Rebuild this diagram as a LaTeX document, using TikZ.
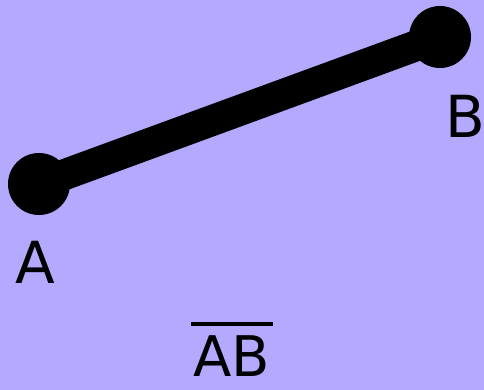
\documentclass[tikz,border=0pt]{standalone}
\usepackage{fontspec}
\setmainfont{DejaVu Sans}
\definecolor{bgc}{RGB}{179,170,255}
\begin{document}
\begin{tikzpicture}[x=1pt,y=-1pt,
  dot/.style={circle,fill=black,minimum size=62pt,inner sep=0pt},
  lbl/.style={font=\fontsize{58}{58}\selectfont,inner sep=0pt,text depth=0pt,anchor=base}]
\fill[bgc] (0,0) rectangle (484,390);
\useasboundingbox (0,0) rectangle (484,390);
\node[dot] (A) at (39,184) {};
\node[dot] (B) at (440,37) {};
\draw[line width=31pt] (A.center) -- (B.center);
\node[lbl] (la) at (35,283) {A};
\node[lbl] (lb) at (465,138) {B};
\node[lbl,font=\fontsize{56}{56}\selectfont] (lab) at (232,376) {AB};
\draw[line width=4pt] ([xshift=-2pt,yshift=11pt]lab.north west) -- ([xshift=2pt,yshift=11pt]lab.north east);
\end{tikzpicture}
\end{document}
